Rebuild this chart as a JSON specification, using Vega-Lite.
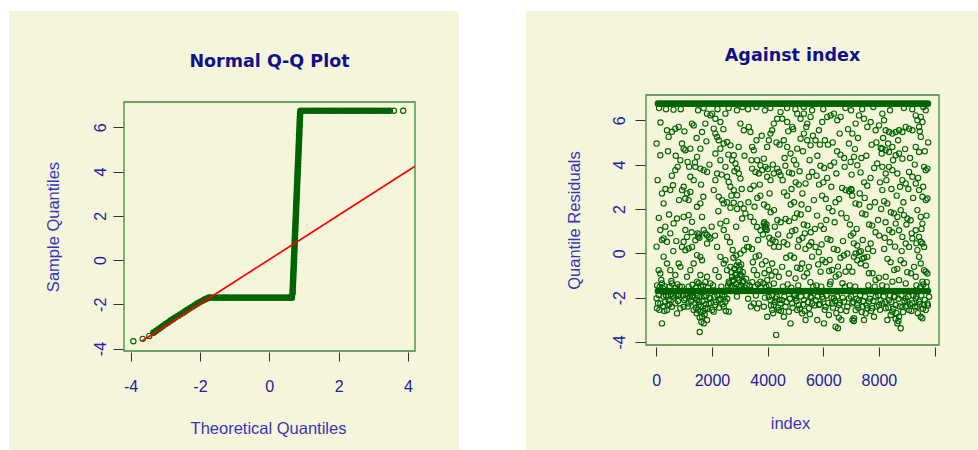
{
 "$schema": "https://vega.github.io/schema/vega-lite/v6.json",
 "background": "white",
 "padding": {"left": 8, "top": 10, "right": 0, "bottom": 0},
 "spacing": 65,
 "config": {
  "view": {"stroke": null},
  "axis": {"zindex": 1, "grid": false, "domain": false, "tickColor": "#333333", "tickWidth": 1, "labelFont": "Liberation Sans", "labelFontSize": 16, "labelColor": "#2020a0", "titleFont": "Liberation Sans", "titleFontSize": 16.5, "titleFontWeight": "normal", "titleColor": "#3535b8", "labelFlush": false, "labelOverlap": false},
  "title": {"font": "DejaVu Sans", "fontSize": 17.5, "fontWeight": "bold", "color": "#10108a", "anchor": "middle", "frame": "group", "baseline": "alphabetic"}
 },
 "datasets": {
  "qqband": [
   {"t":-3.34,"s":-3.28},{"t":-3.27,"s":-3.21},{"t":-3.2,"s":-3.13},{"t":-3.13,"s":-3.05},{"t":-3.06,"s":-2.97},{"t":-2.99,"s":-2.89},{"t":-2.92,"s":-2.82},{"t":-2.85,"s":-2.74},{"t":-2.78,"s":-2.67},{"t":-2.71,"s":-2.6},{"t":-2.64,"s":-2.53},{"t":-2.57,"s":-2.46},{"t":-2.5,"s":-2.39},{"t":-2.43,"s":-2.32},{"t":-2.36,"s":-2.25},{"t":-2.29,"s":-2.18},{"t":-2.22,"s":-2.11},{"t":-2.15,"s":-2.04},{"t":-2.08,"s":-1.97},{"t":-2.01,"s":-1.91},{"t":-1.94,"s":-1.85},{"t":-1.87,"s":-1.79},{"t":-1.8,"s":-1.74},{"t":-1.74,"s":-1.7},
   {"t":-1.66,"s":-1.7},{"t":-1.57,"s":-1.7},{"t":-1.48,"s":-1.7},{"t":-1.39,"s":-1.7},{"t":-1.3,"s":-1.7},{"t":-1.21,"s":-1.7},{"t":-1.12,"s":-1.7},{"t":-1.03,"s":-1.7},{"t":-0.94,"s":-1.7},{"t":-0.85,"s":-1.7},{"t":-0.76,"s":-1.7},{"t":-0.67,"s":-1.7},{"t":-0.58,"s":-1.7},{"t":-0.49,"s":-1.7},{"t":-0.4,"s":-1.7},{"t":-0.31,"s":-1.7},{"t":-0.22,"s":-1.7},{"t":-0.13,"s":-1.7},{"t":-0.04,"s":-1.7},{"t":0.05,"s":-1.7},{"t":0.14,"s":-1.7},{"t":0.23,"s":-1.7},{"t":0.32,"s":-1.7},{"t":0.41,"s":-1.7},{"t":0.5,"s":-1.7},{"t":0.59,"s":-1.7},{"t":0.65,"s":-1.7},
   {"t":0.67,"s":-1.5},{"t":0.674,"s":-1.36},{"t":0.678,"s":-1.22},{"t":0.681,"s":-1.08},{"t":0.685,"s":-0.94},{"t":0.689,"s":-0.8},{"t":0.693,"s":-0.66},{"t":0.696,"s":-0.52},{"t":0.7,"s":-0.38},{"t":0.704,"s":-0.24},{"t":0.708,"s":-0.1},{"t":0.711,"s":0.04},{"t":0.715,"s":0.18},{"t":0.719,"s":0.32},{"t":0.723,"s":0.46},{"t":0.726,"s":0.6},{"t":0.73,"s":0.74},{"t":0.734,"s":0.88},{"t":0.738,"s":1.02},{"t":0.741,"s":1.16},{"t":0.745,"s":1.3},{"t":0.749,"s":1.44},{"t":0.753,"s":1.58},{"t":0.756,"s":1.72},{"t":0.76,"s":1.86},{"t":0.764,"s":2.0},{"t":0.768,"s":2.14},{"t":0.771,"s":2.28},{"t":0.775,"s":2.42},{"t":0.779,"s":2.56},{"t":0.783,"s":2.7},{"t":0.786,"s":2.84},{"t":0.79,"s":2.98},{"t":0.794,"s":3.12},{"t":0.798,"s":3.26},{"t":0.801,"s":3.4},{"t":0.805,"s":3.54},{"t":0.809,"s":3.68},{"t":0.813,"s":3.82},{"t":0.816,"s":3.96},{"t":0.82,"s":4.1},{"t":0.824,"s":4.24},{"t":0.828,"s":4.38},{"t":0.831,"s":4.52},{"t":0.835,"s":4.66},{"t":0.839,"s":4.8},{"t":0.843,"s":4.94},{"t":0.846,"s":5.08},{"t":0.85,"s":5.22},{"t":0.854,"s":5.36},{"t":0.858,"s":5.5},{"t":0.861,"s":5.64},{"t":0.865,"s":5.78},{"t":0.869,"s":5.92},{"t":0.873,"s":6.06},{"t":0.876,"s":6.2},{"t":0.88,"s":6.34},{"t":0.884,"s":6.48},{"t":0.888,"s":6.62},
   {"t":0.9,"s":6.75},{"t":0.99,"s":6.75},{"t":1.08,"s":6.75},{"t":1.17,"s":6.75},{"t":1.26,"s":6.75},{"t":1.35,"s":6.75},{"t":1.44,"s":6.75},{"t":1.53,"s":6.75},{"t":1.62,"s":6.75},{"t":1.71,"s":6.75},{"t":1.8,"s":6.75},{"t":1.89,"s":6.75},{"t":1.98,"s":6.75},{"t":2.07,"s":6.75},{"t":2.16,"s":6.75},{"t":2.25,"s":6.75},{"t":2.34,"s":6.75},{"t":2.43,"s":6.75},{"t":2.52,"s":6.75},{"t":2.61,"s":6.75},{"t":2.7,"s":6.75},{"t":2.79,"s":6.75},{"t":2.88,"s":6.75},{"t":2.97,"s":6.75},{"t":3.06,"s":6.75},{"t":3.15,"s":6.75},{"t":3.24,"s":6.75},{"t":3.33,"s":6.75},{"t":3.42,"s":6.75}
  ],
  "qqtail": [
   {"t":-3.92,"s":-3.67},{"t":-3.65,"s":-3.56},{"t":-3.46,"s":-3.43},{"t":3.48,"s":6.75},{"t":3.59,"s":6.75},{"t":3.86,"s":6.75}
  ],
  "qqline": [{"t":-3.68,"s":-3.67},{"t":4.2,"s":4.24}],
  "band": [
   {"i":60,"r":6.75},{"i":160,"r":6.75},{"i":260,"r":6.75},{"i":360,"r":6.75},{"i":460,"r":6.75},{"i":560,"r":6.75},{"i":660,"r":6.75},{"i":760,"r":6.75},{"i":860,"r":6.75},{"i":960,"r":6.75},{"i":1060,"r":6.75},{"i":1160,"r":6.75},{"i":1260,"r":6.75},{"i":1360,"r":6.75},{"i":1460,"r":6.75},{"i":1560,"r":6.75},{"i":1660,"r":6.75},{"i":1760,"r":6.75},{"i":1860,"r":6.75},{"i":1960,"r":6.75},{"i":2060,"r":6.75},{"i":2160,"r":6.75},{"i":2260,"r":6.75},{"i":2360,"r":6.75},{"i":2460,"r":6.75},{"i":2560,"r":6.75},{"i":2660,"r":6.75},{"i":2760,"r":6.75},{"i":2860,"r":6.75},{"i":2960,"r":6.75},{"i":3060,"r":6.75},{"i":3160,"r":6.75},{"i":3260,"r":6.75},{"i":3360,"r":6.75},{"i":3460,"r":6.75},{"i":3560,"r":6.75},{"i":3660,"r":6.75},{"i":3760,"r":6.75},{"i":3860,"r":6.75},{"i":3960,"r":6.75},{"i":4060,"r":6.75},{"i":4160,"r":6.75},{"i":4260,"r":6.75},{"i":4360,"r":6.75},{"i":4460,"r":6.75},{"i":4560,"r":6.75},{"i":4660,"r":6.75},{"i":4760,"r":6.75},{"i":4860,"r":6.75},{"i":4960,"r":6.75},{"i":5060,"r":6.75},{"i":5160,"r":6.75},{"i":5260,"r":6.75},{"i":5360,"r":6.75},{"i":5460,"r":6.75},{"i":5560,"r":6.75},{"i":5660,"r":6.75},{"i":5760,"r":6.75},{"i":5860,"r":6.75},{"i":5960,"r":6.75},{"i":6060,"r":6.75},{"i":6160,"r":6.75},{"i":6260,"r":6.75},{"i":6360,"r":6.75},{"i":6460,"r":6.75},{"i":6560,"r":6.75},{"i":6660,"r":6.75},{"i":6760,"r":6.75},{"i":6860,"r":6.75},{"i":6960,"r":6.75},{"i":7060,"r":6.75},{"i":7160,"r":6.75},{"i":7260,"r":6.75},{"i":7360,"r":6.75},{"i":7460,"r":6.75},{"i":7560,"r":6.75},{"i":7660,"r":6.75},{"i":7760,"r":6.75},{"i":7860,"r":6.75},{"i":7960,"r":6.75},{"i":8060,"r":6.75},{"i":8160,"r":6.75},{"i":8260,"r":6.75},{"i":8360,"r":6.75},{"i":8460,"r":6.75},{"i":8560,"r":6.75},{"i":8660,"r":6.75},{"i":8760,"r":6.75},{"i":8860,"r":6.75},{"i":8960,"r":6.75},{"i":9060,"r":6.75},{"i":9160,"r":6.75},{"i":9260,"r":6.75},{"i":9360,"r":6.75},{"i":9460,"r":6.75},{"i":9560,"r":6.75},{"i":9660,"r":6.75},{"i":9760,"r":6.75},
   {"i":60,"r":-1.7},{"i":160,"r":-1.7},{"i":260,"r":-1.7},{"i":360,"r":-1.7},{"i":460,"r":-1.7},{"i":560,"r":-1.7},{"i":660,"r":-1.7},{"i":760,"r":-1.7},{"i":860,"r":-1.7},{"i":960,"r":-1.7},{"i":1060,"r":-1.7},{"i":1160,"r":-1.7},{"i":1260,"r":-1.7},{"i":1360,"r":-1.7},{"i":1460,"r":-1.7},{"i":1560,"r":-1.7},{"i":1660,"r":-1.7},{"i":1760,"r":-1.7},{"i":1860,"r":-1.7},{"i":1960,"r":-1.7},{"i":2060,"r":-1.7},{"i":2160,"r":-1.7},{"i":2260,"r":-1.7},{"i":2360,"r":-1.7},{"i":2460,"r":-1.7},{"i":2560,"r":-1.7},{"i":2660,"r":-1.7},{"i":2760,"r":-1.7},{"i":2860,"r":-1.7},{"i":2960,"r":-1.7},{"i":3060,"r":-1.7},{"i":3160,"r":-1.7},{"i":3260,"r":-1.7},{"i":3360,"r":-1.7},{"i":3460,"r":-1.7},{"i":3560,"r":-1.7},{"i":3660,"r":-1.7},{"i":3760,"r":-1.7},{"i":3860,"r":-1.7},{"i":3960,"r":-1.7},{"i":4060,"r":-1.7},{"i":4160,"r":-1.7},{"i":4260,"r":-1.7},{"i":4360,"r":-1.7},{"i":4460,"r":-1.7},{"i":4560,"r":-1.7},{"i":4660,"r":-1.7},{"i":4760,"r":-1.7},{"i":4860,"r":-1.7},{"i":4960,"r":-1.7},{"i":5060,"r":-1.7},{"i":5160,"r":-1.7},{"i":5260,"r":-1.7},{"i":5360,"r":-1.7},{"i":5460,"r":-1.7},{"i":5560,"r":-1.7},{"i":5660,"r":-1.7},{"i":5760,"r":-1.7},{"i":5860,"r":-1.7},{"i":5960,"r":-1.7},{"i":6060,"r":-1.7},{"i":6160,"r":-1.7},{"i":6260,"r":-1.7},{"i":6360,"r":-1.7},{"i":6460,"r":-1.7},{"i":6560,"r":-1.7},{"i":6660,"r":-1.7},{"i":6760,"r":-1.7},{"i":6860,"r":-1.7},{"i":6960,"r":-1.7},{"i":7060,"r":-1.7},{"i":7160,"r":-1.7},{"i":7260,"r":-1.7},{"i":7360,"r":-1.7},{"i":7460,"r":-1.7},{"i":7560,"r":-1.7},{"i":7660,"r":-1.7},{"i":7760,"r":-1.7},{"i":7860,"r":-1.7},{"i":7960,"r":-1.7},{"i":8060,"r":-1.7},{"i":8160,"r":-1.7},{"i":8260,"r":-1.7},{"i":8360,"r":-1.7},{"i":8460,"r":-1.7},{"i":8560,"r":-1.7},{"i":8660,"r":-1.7},{"i":8760,"r":-1.7},{"i":8860,"r":-1.7},{"i":8960,"r":-1.7},{"i":9060,"r":-1.7},{"i":9160,"r":-1.7},{"i":9260,"r":-1.7},{"i":9360,"r":-1.7},{"i":9460,"r":-1.7},{"i":9560,"r":-1.7},{"i":9660,"r":-1.7},{"i":9760,"r":-1.7}
  ],
  "resid": [
   {"i":10,"r":4.95},{"i":48,"r":3.3},{"i":144,"r":4.42},{"i":384,"r":5.55},{"i":444,"r":5.25},{"i":564,"r":5.48},{"i":684,"r":5.62},{"i":804,"r":5.7},{"i":204,"r":2.7},{"i":264,"r":2.25},{"i":504,"r":2.85},{"i":600,"r":3.07},{"i":684,"r":3.75},{"i":768,"r":3.9},{"i":10,"r":0.3},{"i":144,"r":1.05},{"i":324,"r":1.2},{"i":264,"r":0.67},{"i":204,"r":0.6},{"i":384,"r":0.52},{"i":504,"r":0.9},{"i":624,"r":1.35},{"i":744,"r":1.57},{"i":384,"r":-0.46},{"i":264,"r":-0.15},{"i":144,"r":-0.91},{"i":84,"r":-0.76},{"i":504,"r":-0.76},{"i":684,"r":-0.98},{"i":804,"r":-0.46},{"i":204,"r":-1.36},{"i":564,"r":-1.36},{"i":864,"r":-0.61},
   {"i":10,"r":-2.03},{"i":24,"r":-2.48},{"i":144,"r":-2.26},{"i":264,"r":-1.96},{"i":324,"r":-2.18},{"i":384,"r":-2.56},{"i":204,"r":-3.16},{"i":444,"r":-2.11},{"i":564,"r":-2.41},{"i":684,"r":-2.26},{"i":744,"r":-2.71},{"i":864,"r":-2.48},{"i":84,"r":-1.88},
   {"i":30,"r":-1.45},{"i":120,"r":-1.52},{"i":180,"r":-1.2},{"i":240,"r":-1.58},{"i":300,"r":-1.48},{"i":350,"r":-1.9},{"i":420,"r":-1.95},{"i":470,"r":-2.3},{"i":520,"r":-1.85},{"i":600,"r":-1.93},{"i":650,"r":-2.0},{"i":720,"r":-1.9},{"i":780,"r":-2.15},{"i":820,"r":-1.88},{"i":60,"r":-2.25},{"i":110,"r":-2.55},{"i":250,"r":-2.4},{"i":290,"r":-2.6},{"i":410,"r":-2.35},{"i":480,"r":-1.5},{"i":540,"r":-1.25},{"i":700,"r":-1.55},{"i":760,"r":-1.4},{"i":840,"r":-1.5},{"i":100,"r":6.55},{"i":350,"r":6.5},{"i":620,"r":6.48},{"i":880,"r":6.5},
   {"i":864,"r":4.2},{"i":924,"r":4.95},{"i":984,"r":4.72},{"i":1044,"r":4.65},{"i":1128,"r":4.12},{"i":1224,"r":4.72},{"i":984,"r":3.0},{"i":924,"r":2.85},{"i":1104,"r":2.7},{"i":1164,"r":2.4},{"i":1224,"r":2.77},{"i":1044,"r":2.47},{"i":1344,"r":3.3},{"i":1404,"r":3.9},{"i":1584,"r":3.82},{"i":1704,"r":3.75},{"i":1824,"r":3.67},{"i":1224,"r":3.45},{"i":1464,"r":4.35},{"i":1584,"r":4.72},{"i":1284,"r":5.85},{"i":1344,"r":5.77},{"i":1644,"r":5.47},{"i":1764,"r":5.85},{"i":1944,"r":6.22},{"i":2004,"r":6.3},{"i":1824,"r":6.3},{"i":984,"r":1.64},{"i":1164,"r":1.72},{"i":1284,"r":1.42},{"i":1464,"r":2.1},{"i":1584,"r":2.25},{"i":1644,"r":1.64},{"i":1704,"r":1.05},{"i":1764,"r":0.9},{"i":1824,"r":0.82},{"i":1884,"r":0.74},{"i":1944,"r":0.67},{"i":1824,"r":0.44},{"i":1044,"r":1.05},{"i":1104,"r":0.74},{"i":984,"r":0.52},{"i":924,"r":0.29},{"i":1044,"r":0.14},{"i":1164,"r":0.22},{"i":1284,"r":0.29},{"i":1404,"r":0.59},{"i":1464,"r":-0.08},{"i":1584,"r":-0.16},{"i":1644,"r":-0.31},{"i":1344,"r":-0.46},{"i":1224,"r":-0.76},{"i":1584,"r":-0.98},{"i":1824,"r":-1.06},{"i":1944,"r":-1.36},{"i":1464,"r":-1.28},{"i":1104,"r":-1.06},
   {"i":984,"r":-2.41},{"i":1044,"r":-2.03},{"i":1164,"r":-2.26},{"i":1284,"r":-1.96},{"i":1344,"r":-2.56},{"i":1404,"r":-2.26},{"i":1464,"r":-2.11},{"i":1524,"r":-2.33},{"i":1584,"r":-2.63},{"i":1644,"r":-2.86},{"i":1704,"r":-3.16},{"i":1560,"r":-3.55},{"i":1824,"r":-3.01},{"i":1764,"r":-2.48},{"i":1884,"r":-2.26},{"i":1944,"r":-2.03},{"i":2004,"r":-2.56},{"i":1584,"r":-1.96},
   {"i":920,"r":-1.5},{"i":960,"r":-1.9},{"i":1000,"r":-2.1},{"i":1080,"r":-1.85},{"i":1130,"r":-2.4},{"i":1200,"r":-1.95},{"i":1250,"r":-2.15},{"i":1320,"r":-1.9},{"i":1380,"r":-2.0},{"i":1420,"r":-2.45},{"i":1450,"r":-2.7},{"i":1480,"r":-1.9},{"i":1500,"r":-2.55},{"i":1540,"r":-2.2},{"i":1560,"r":-2.9},{"i":1600,"r":-2.4},{"i":1620,"r":-3.1},{"i":1660,"r":-2.15},{"i":1690,"r":-2.6},{"i":1720,"r":-1.95},{"i":1740,"r":-2.75},{"i":1780,"r":-2.3},{"i":1800,"r":-1.9},{"i":1850,"r":-2.5},{"i":1900,"r":-2.0},{"i":1960,"r":-2.25},{"i":1160,"r":-1.5},{"i":1300,"r":-1.42},{"i":1420,"r":-1.55},{"i":1520,"r":-1.35},{"i":1600,"r":-1.5},{"i":1680,"r":-1.45},{"i":1760,"r":-1.3},{"i":1860,"r":-1.55},{"i":1500,"r":0.75},{"i":1530,"r":0.85},{"i":1550,"r":0.7},{"i":1480,"r":0.9},{"i":1500,"r":6.45},{"i":1700,"r":6.55},
   {"i":2064,"r":5.62},{"i":2124,"r":5.4},{"i":2184,"r":5.25},{"i":2244,"r":5.1},{"i":2304,"r":4.72},{"i":2124,"r":4.5},{"i":2424,"r":4.95},{"i":2544,"r":5.02},{"i":2664,"r":4.87},{"i":2784,"r":4.42},{"i":2724,"r":4.2},{"i":2844,"r":4.05},{"i":2904,"r":3.82},{"i":2964,"r":3.6},{"i":3024,"r":3.37},{"i":2484,"r":3.9},{"i":2544,"r":3.45},{"i":2604,"r":3.22},{"i":2664,"r":3.0},{"i":2784,"r":2.85},{"i":2904,"r":2.62},{"i":2304,"r":4.2},{"i":2184,"r":3.6},{"i":2124,"r":3.3},{"i":2064,"r":2.85},{"i":2244,"r":2.55},{"i":2364,"r":2.4},{"i":2424,"r":2.25},{"i":2544,"r":2.3},{"i":2664,"r":2.05},{"i":2784,"r":2.28},{"i":2904,"r":2.0},{"i":3024,"r":2.22},{"i":3144,"r":2.02},{"i":3204,"r":1.8},{"i":3084,"r":1.57},{"i":2304,"r":1.34},{"i":2424,"r":1.05},{"i":2544,"r":0.74},{"i":2650,"r":0.5},{"i":2745,"r":0.15},{"i":2770,"r":-0.2},{"i":2870,"r":-0.1},{"i":2890,"r":-0.55},{"i":2990,"r":-0.6},{"i":3010,"r":-0.95},{"i":3110,"r":-0.85},{"i":3130,"r":-1.25},{"i":3230,"r":-1.15},{"i":2184,"r":0.29},{"i":2304,"r":-0.16},{"i":2424,"r":-0.46},{"i":2544,"r":-0.76},{"i":2664,"r":-0.61},{"i":2484,"r":-0.31},{"i":2724,"r":-1.06},{"i":2844,"r":-0.98},{"i":2604,"r":-1.28},{"i":2124,"r":-0.76},{"i":2244,"r":-1.06},{"i":3024,"r":-0.01},{"i":3144,"r":0.14},{"i":3264,"r":0.29},{"i":2124,"r":6.07},{"i":2304,"r":5.92},{"i":2484,"r":6.3},{"i":3024,"r":5.85},{"i":3144,"r":5.55},
   {"i":2124,"r":-2.33},{"i":2244,"r":-2.11},{"i":2364,"r":-1.88},{"i":2424,"r":-2.41},{"i":2484,"r":-2.18},{"i":2604,"r":-2.63},{"i":2064,"r":-2.63},{"i":3504,"r":-2.26},{"i":3624,"r":-2.48},
   {"i":2040,"r":-1.45},{"i":2090,"r":-1.95},{"i":2150,"r":-2.2},{"i":2200,"r":-1.9},{"i":2260,"r":-2.45},{"i":2300,"r":-2.05},{"i":2340,"r":-1.5},{"i":2380,"r":-2.3},{"i":2450,"r":-1.95},{"i":2500,"r":-2.6},{"i":2550,"r":-2.05},{"i":2580,"r":-1.45},{"i":2620,"r":-1.35},{"i":2700,"r":-1.5},{"i":2760,"r":-1.25},{"i":2820,"r":-1.55},{"i":2880,"r":-1.4},{"i":2960,"r":-1.5},{"i":3050,"r":-1.45},{"i":3100,"r":-1.3},{"i":3180,"r":-1.55},{"i":3250,"r":-1.45},{"i":2900,"r":-1.95},{"i":3300,"r":-2.05},{"i":3400,"r":-2.4},{"i":3580,"r":-1.9},{"i":3900,"r":-2.0},{"i":2800,"r":-0.7},{"i":2860,"r":-0.9},{"i":2920,"r":-1.1},{"i":2950,"r":-0.4},{"i":3000,"r":-0.75},{"i":3060,"r":-1.0},{"i":2700,"r":-0.85},{"i":2740,"r":-1.2},{"i":2980,"r":-1.2},{"i":3050,"r":-0.5},{"i":2200,"r":6.5},{"i":2600,"r":6.55},{"i":2900,"r":6.45},{"i":3100,"r":6.6},
   {"i":3324,"r":5.7},{"i":3384,"r":5.47},{"i":3444,"r":4.8},{"i":3504,"r":4.65},{"i":3624,"r":4.2},{"i":3744,"r":3.97},{"i":3864,"r":4.27},{"i":3984,"r":4.8},{"i":4044,"r":5.1},{"i":4104,"r":5.4},{"i":4164,"r":5.55},{"i":4224,"r":5.85},{"i":4344,"r":6.07},{"i":4464,"r":6.37},{"i":3444,"r":3.82},{"i":3564,"r":3.67},{"i":3684,"r":3.6},{"i":3804,"r":3.75},{"i":3924,"r":3.9},{"i":3984,"r":3.45},{"i":4104,"r":3.3},{"i":4224,"r":3.6},{"i":4344,"r":3.82},{"i":4404,"r":3.67},{"i":4464,"r":3.52},{"i":3380,"r":2.9},{"i":3500,"r":3.05},{"i":3630,"r":2.5},{"i":3740,"r":2.6},{"i":3870,"r":2.2},{"i":3990,"r":2.1},{"i":4110,"r":1.85},{"i":4230,"r":1.95},{"i":4350,"r":1.5},{"i":4470,"r":1.4},{"i":3384,"r":1.64},{"i":3504,"r":1.42},{"i":3624,"r":1.19},{"i":3744,"r":1.04},{"i":3864,"r":1.34},{"i":3924,"r":1.19},{"i":3970,"r":1.05},{"i":4060,"r":0.7},{"i":4090,"r":0.45},{"i":4180,"r":0.6},{"i":4230,"r":0.3},{"i":4284,"r":0.52},{"i":4404,"r":0.29},{"i":3324,"r":0.29},{"i":3440,"r":0.2},{"i":3570,"r":-0.15},{"i":3690,"r":-0.1},{"i":3800,"r":-0.5},{"i":3930,"r":-0.35},{"i":4050,"r":-0.75},{"i":4164,"r":-0.46},{"i":4284,"r":-0.83},{"i":4404,"r":-1.06},{"i":3504,"r":-0.76},{"i":3624,"r":-0.98},{"i":3744,"r":-1.28},{"i":3984,"r":-1.21},{"i":4224,"r":-1.36},{"i":3900,"r":1.25},{"i":3930,"r":1.1},{"i":3960,"r":1.3},{"i":3880,"r":1.4},
   {"i":3684,"r":-2.26},{"i":3864,"r":-2.41},{"i":3984,"r":-2.86},{"i":4104,"r":-2.11},{"i":4224,"r":-2.33},{"i":4308,"r":-3.68},{"i":4404,"r":-2.56},{"i":4464,"r":-2.26},{"i":4044,"r":-1.96},{"i":4164,"r":-2.56},{"i":4284,"r":-2.03},
   {"i":3350,"r":-1.45},{"i":3450,"r":-1.3},{"i":3550,"r":-1.5},{"i":3650,"r":-1.4},{"i":3750,"r":-1.55},{"i":3850,"r":-1.35},{"i":3950,"r":-1.5},{"i":4050,"r":-1.45},{"i":4150,"r":-1.9},{"i":4250,"r":-2.2},{"i":4330,"r":-1.95},{"i":4380,"r":-2.45},{"i":4420,"r":-2.1},{"i":4480,"r":-2.6},{"i":4200,"r":-2.7},{"i":4120,"r":-2.35},{"i":3300,"r":6.5},{"i":3600,"r":6.6},{"i":3900,"r":6.45},{"i":4100,"r":6.55},
   {"i":4524,"r":6.07},{"i":4704,"r":5.92},{"i":4884,"r":5.7},{"i":5064,"r":6.3},{"i":5184,"r":6.07},{"i":5304,"r":6.3},{"i":5424,"r":5.85},{"i":5544,"r":6.15},{"i":4584,"r":5.1},{"i":4704,"r":4.8},{"i":4824,"r":4.5},{"i":4944,"r":4.2},{"i":5064,"r":4.72},{"i":5184,"r":5.17},{"i":5304,"r":5.4},{"i":5424,"r":5.1},{"i":5544,"r":4.87},{"i":4640,"r":3.95},{"i":4770,"r":3.65},{"i":4880,"r":3.6},{"i":5010,"r":3.2},{"i":5120,"r":3.1},{"i":5250,"r":2.7},{"i":5364,"r":3.15},{"i":5484,"r":3.45},{"i":5604,"r":3.67},{"i":4590,"r":2.75},{"i":4700,"r":2.6},{"i":4830,"r":2.2},{"i":4950,"r":2.3},{"i":5060,"r":1.8},{"i":5190,"r":1.75},{"i":5300,"r":1.3},{"i":5430,"r":1.25},{"i":5550,"r":0.95},{"i":5664,"r":2.4},{"i":4650,"r":1.55},{"i":4770,"r":1.45},{"i":4880,"r":1.0},{"i":5000,"r":1.05},{"i":5130,"r":0.6},{"i":5250,"r":0.7},{"i":5360,"r":0.2},{"i":5490,"r":0.35},{"i":5600,"r":-0.15},{"i":4580,"r":0.5},{"i":4710,"r":0.4},{"i":4820,"r":-0.1},{"i":4950,"r":-0.2},{"i":5060,"r":-0.65},{"i":5180,"r":-0.7},{"i":5310,"r":-1.05},{"i":5420,"r":-0.9},{"i":5540,"r":-1.3},{"i":4524,"r":-0.61},{"i":4764,"r":-0.91},{"i":5004,"r":-1.13},{"i":5244,"r":-0.46},{"i":5484,"r":-0.61},
   {"i":4524,"r":-2.11},{"i":4644,"r":-2.41},{"i":4764,"r":-2.63},{"i":4884,"r":-2.26},{"i":5004,"r":-2.03},{"i":5124,"r":-2.33},{"i":5244,"r":-2.71},{"i":5364,"r":-3.01},{"i":5484,"r":-2.48},{"i":5604,"r":-2.26},{"i":4584,"r":-2.86},{"i":4824,"r":-3.16},{"i":5064,"r":-2.56},{"i":5304,"r":-2.11},{"i":5544,"r":-1.96},{"i":4944,"r":-1.88},
   {"i":4550,"r":-1.5},{"i":4600,"r":-1.95},{"i":4680,"r":-2.2},{"i":4720,"r":-1.4},{"i":4800,"r":-2.05},{"i":4850,"r":-1.55},{"i":4900,"r":-2.45},{"i":4980,"r":-1.9},{"i":5040,"r":-2.15},{"i":5100,"r":-1.45},{"i":5160,"r":-2.5},{"i":5200,"r":-1.95},{"i":5280,"r":-2.3},{"i":5330,"r":-2.6},{"i":5400,"r":-1.9},{"i":5450,"r":-2.2},{"i":5520,"r":-2.75},{"i":5580,"r":-2.0},{"i":5640,"r":-1.5},{"i":5680,"r":-2.35},{"i":4700,"r":6.55},{"i":5000,"r":6.5},{"i":5300,"r":6.6},{"i":5600,"r":6.45},
   {"i":5724,"r":5.1},{"i":5844,"r":5.55},{"i":5964,"r":5.92},{"i":6144,"r":6.15},{"i":6264,"r":6.22},{"i":6384,"r":6.3},{"i":6504,"r":6.0},{"i":6624,"r":6.15},{"i":5790,"r":4.4},{"i":5900,"r":3.95},{"i":6030,"r":3.85},{"i":6140,"r":3.4},{"i":6260,"r":3.95},{"i":6390,"r":4.1},{"i":6500,"r":4.6},{"i":6620,"r":4.45},{"i":6750,"r":4.3},{"i":5850,"r":3.1},{"i":5960,"r":2.6},{"i":6090,"r":2.45},{"i":6200,"r":2.05},{"i":6330,"r":1.9},{"i":6440,"r":2.3},{"i":6570,"r":2.45},{"i":6680,"r":2.95},{"i":6800,"r":2.85},{"i":5780,"r":1.7},{"i":5910,"r":1.25},{"i":6020,"r":1.1},{"i":6150,"r":0.65},{"i":6260,"r":0.6},{"i":6380,"r":0.2},{"i":6510,"r":0.15},{"i":6620,"r":-0.2},{"i":6740,"r":-0.1},{"i":6864,"r":-0.01},{"i":5724,"r":0.29},{"i":5840,"r":0.05},{"i":5970,"r":-0.3},{"i":6080,"r":-0.4},{"i":6210,"r":-0.8},{"i":6320,"r":-0.75},{"i":6450,"r":-1.05},{"i":6560,"r":-0.95},{"i":6690,"r":-1.35},{"i":6804,"r":-0.83},{"i":5904,"r":-0.83},{"i":6264,"r":-1.28},
   {"i":5724,"r":-2.11},{"i":5844,"r":-2.33},{"i":5964,"r":-1.96},{"i":6084,"r":-2.41},{"i":6204,"r":-2.78},{"i":6324,"r":-2.26},{"i":6444,"r":-3.31},{"i":6528,"r":-3.38},{"i":6624,"r":-2.56},{"i":6744,"r":-2.18},{"i":6864,"r":-2.41},{"i":5784,"r":-3.01},{"i":6024,"r":-3.16},{"i":6384,"r":-2.03},{"i":6564,"r":-2.33},
   {"i":5750,"r":-1.45},{"i":5800,"r":-1.95},{"i":5880,"r":-2.3},{"i":5930,"r":-1.5},{"i":6000,"r":-2.05},{"i":6050,"r":-2.55},{"i":6120,"r":-1.9},{"i":6180,"r":-2.25},{"i":6240,"r":-1.4},{"i":6300,"r":-2.0},{"i":6350,"r":-2.45},{"i":6420,"r":-2.15},{"i":6470,"r":-2.7},{"i":6500,"r":-1.95},{"i":6560,"r":-2.9},{"i":6600,"r":-2.25},{"i":6650,"r":-3.0},{"i":6700,"r":-2.0},{"i":6780,"r":-1.5},{"i":6830,"r":-2.6},{"i":6000,"r":6.5},{"i":6800,"r":6.55},
   {"i":6924,"r":4.95},{"i":7044,"r":5.4},{"i":7164,"r":5.85},{"i":7284,"r":6.22},{"i":7464,"r":6.07},{"i":7584,"r":5.7},{"i":7704,"r":5.92},{"i":7884,"r":5.55},{"i":8004,"r":5.77},{"i":6984,"r":4.12},{"i":7104,"r":4.35},{"i":7224,"r":3.97},{"i":7340,"r":3.65},{"i":7470,"r":3.2},{"i":7580,"r":3.05},{"i":7700,"r":3.4},{"i":7830,"r":3.85},{"i":7940,"r":4.05},{"i":8070,"r":4.75},{"i":6930,"r":2.8},{"i":7040,"r":2.6},{"i":7160,"r":2.25},{"i":7290,"r":2.2},{"i":7400,"r":1.8},{"i":7520,"r":1.75},{"i":7650,"r":1.3},{"i":7760,"r":1.25},{"i":7880,"r":0.95},{"i":8010,"r":0.8},{"i":6990,"r":0.8},{"i":7100,"r":0.45},{"i":7220,"r":0.35},{"i":7290,"r":0.05},{"i":7350,"r":0.1},{"i":7400,"r":-0.25},{"i":7470,"r":-0.2},{"i":7104,"r":-0.16},{"i":7164,"r":-0.01},{"i":7224,"r":-0.31},{"i":7344,"r":-0.46},{"i":7530,"r":-0.55},{"i":7640,"r":-0.9},{"i":7770,"r":-0.9},{"i":7880,"r":-1.2},{"i":8000,"r":-1.1},{"i":6924,"r":-0.61},{"i":7044,"r":-0.83},{"i":7584,"r":-0.16},{"i":7704,"r":0.44},{"i":7000,"r":2.9},{"i":7020,"r":2.85},
   {"i":6924,"r":-2.03},{"i":7044,"r":-2.26},{"i":7164,"r":-2.56},{"i":7284,"r":-2.11},{"i":7404,"r":-2.41},{"i":7524,"r":-2.71},{"i":7644,"r":-2.18},{"i":7764,"r":-2.48},{"i":7884,"r":-1.96},{"i":8004,"r":-2.33},{"i":7104,"r":-2.93},{"i":7464,"r":-3.01},{"i":7584,"r":-2.48},{"i":8064,"r":-2.11},{"i":7224,"r":-2.33},{"i":7824,"r":-2.86},
   {"i":6950,"r":-1.45},{"i":7000,"r":-1.95},{"i":7080,"r":-2.2},{"i":7150,"r":-1.5},{"i":7200,"r":-2.05},{"i":7260,"r":-2.45},{"i":7320,"r":-1.9},{"i":7380,"r":-2.65},{"i":7430,"r":-2.15},{"i":7500,"r":-1.95},{"i":7560,"r":-2.35},{"i":7620,"r":-1.45},{"i":7680,"r":-2.05},{"i":7720,"r":-2.6},{"i":7800,"r":-2.15},{"i":7850,"r":-1.5},{"i":7920,"r":-2.4},{"i":7980,"r":-1.9},{"i":8040,"r":-2.55},{"i":7100,"r":-3.05},{"i":7050,"r":-3.0},{"i":7000,"r":6.45},{"i":7400,"r":6.5},{"i":7800,"r":6.6},
   {"i":8124,"r":6.3},{"i":8184,"r":6.0},{"i":8244,"r":5.55},{"i":8364,"r":5.47},{"i":8484,"r":5.4},{"i":8604,"r":5.47},{"i":8724,"r":5.55},{"i":8844,"r":5.47},{"i":8964,"r":5.7},{"i":9084,"r":5.62},{"i":9204,"r":5.55},{"i":8124,"r":4.72},{"i":8244,"r":4.65},{"i":8364,"r":4.57},{"i":8484,"r":4.8},{"i":8604,"r":4.42},{"i":8724,"r":4.5},{"i":8844,"r":4.27},{"i":8124,"r":3.9},{"i":8244,"r":3.6},{"i":8364,"r":3.9},{"i":8484,"r":3.75},{"i":8664,"r":3.6},{"i":8844,"r":3.3},{"i":8964,"r":3.15},{"i":9084,"r":3.67},{"i":9204,"r":3.45},{"i":8124,"r":2.85},{"i":8190,"r":2.35},{"i":8300,"r":2.25},{"i":8430,"r":1.85},{"i":8540,"r":1.8},{"i":8664,"r":1.64},{"i":8784,"r":1.95},{"i":8904,"r":1.72},{"i":9024,"r":1.57},{"i":9144,"r":1.49},{"i":8240,"r":1.4},{"i":8370,"r":1.05},{"i":8480,"r":0.95},{"i":8604,"r":1.34},{"i":8724,"r":1.04},{"i":8844,"r":0.74},{"i":8964,"r":0.44},{"i":9084,"r":0.29},{"i":9204,"r":0.67},{"i":8190,"r":0.2},{"i":8310,"r":-0.25},{"i":8420,"r":-0.4},{"i":8550,"r":-0.75},{"i":8660,"r":-0.7},{"i":8784,"r":-0.31},{"i":8900,"r":-0.45},{"i":9020,"r":-0.85},{"i":9150,"r":-0.9},{"i":9264,"r":-0.61},{"i":8244,"r":-1.06},{"i":8484,"r":-1.28},{"i":8724,"r":-1.21},{"i":8964,"r":-1.36},{"i":8080,"r":2.0},{"i":8100,"r":4.5},
   {"i":8124,"r":-2.26},{"i":8244,"r":-2.48},{"i":8364,"r":-2.11},{"i":8484,"r":-2.63},{"i":8604,"r":-2.33},{"i":8724,"r":-2.86},{"i":8784,"r":-3.38},{"i":8844,"r":-2.41},{"i":8964,"r":-2.03},{"i":9084,"r":-2.56},{"i":9204,"r":-2.26},{"i":8304,"r":-3.01},{"i":8544,"r":-1.96},{"i":8664,"r":-3.16},{"i":8424,"r":-2.78},{"i":9024,"r":-2.18},
   {"i":8120,"r":-1.45},{"i":8170,"r":-1.95},{"i":8230,"r":-2.2},{"i":8280,"r":-1.5},{"i":8340,"r":-2.45},{"i":8400,"r":-1.9},{"i":8450,"r":-2.2},{"i":8520,"r":-2.5},{"i":8570,"r":-1.95},{"i":8630,"r":-2.7},{"i":8700,"r":-2.05},{"i":8750,"r":-2.4},{"i":8810,"r":-1.9},{"i":8870,"r":-2.65},{"i":8920,"r":-2.15},{"i":8980,"r":-2.4},{"i":9050,"r":-1.95},{"i":9110,"r":-2.3},{"i":9170,"r":-2.6},{"i":9240,"r":-1.9},{"i":8600,"r":-2.95},{"i":8700,"r":-3.05},{"i":8400,"r":6.45},{"i":8900,"r":6.55},{"i":9200,"r":6.5},
   {"i":9324,"r":6.22},{"i":9384,"r":6.0},{"i":9444,"r":5.7},{"i":9504,"r":6.15},{"i":9564,"r":5.92},{"i":9684,"r":6.45},{"i":9324,"r":4.8},{"i":9444,"r":4.57},{"i":9504,"r":5.25},{"i":9624,"r":3.9},{"i":9684,"r":3.75},{"i":9744,"r":3.82},{"i":9324,"r":3.15},{"i":9444,"r":2.85},{"i":9564,"r":2.55},{"i":9684,"r":2.4},{"i":9744,"r":2.47},{"i":9384,"r":1.95},{"i":9504,"r":1.64},{"i":9564,"r":1.34},{"i":9324,"r":1.04},{"i":9444,"r":0.74},{"i":9504,"r":0.52},{"i":9564,"r":0.44},{"i":9624,"r":0.29},{"i":9384,"r":0.14},{"i":9444,"r":-0.16},{"i":9504,"r":-0.46},{"i":9624,"r":-0.76},{"i":9684,"r":-0.83},{"i":9744,"r":-0.91},{"i":9324,"r":-1.06},{"i":9564,"r":-1.28},
   {"i":9324,"r":-2.03},{"i":9384,"r":-2.41},{"i":9444,"r":-2.18},{"i":9504,"r":-2.86},{"i":9564,"r":-2.93},{"i":9624,"r":-2.33},{"i":9684,"r":-2.56},{"i":9744,"r":-2.26},{"i":9804,"r":-1.96},
   {"i":9300,"r":-2.4},{"i":9350,"r":-1.95},{"i":9400,"r":-2.7},{"i":9460,"r":-2.3},{"i":9520,"r":-1.9},{"i":9580,"r":-2.5},{"i":9650,"r":-2.1},{"i":9700,"r":-1.5},{"i":9760,"r":-2.35},{"i":9350,"r":-1.45},{"i":9600,"r":-1.4},{"i":9720,"r":-1.3},{"i":9480,"r":-1.55},{"i":9600,"r":6.6},
   {"i":150,"r":5.9},{"i":420,"r":4.6},{"i":700,"r":4.4},{"i":560,"r":3.5},{"i":330,"r":2.9},{"i":90,"r":1.6},{"i":460,"r":1.75},{"i":610,"r":0.1},{"i":720,"r":0.55},{"i":820,"r":2.4},{"i":1010,"r":5.5},{"i":1180,"r":3.9},{"i":1270,"r":0.95},{"i":1390,"r":4.1},{"i":1450,"r":5.2},{"i":1610,"r":3.1},{"i":1690,"r":2.55},{"i":1800,"r":5.05},{"i":1910,"r":4.0},{"i":1990,"r":1.2},{"i":2110,"r":0.8},{"i":2230,"r":1.9},{"i":2350,"r":3.55},{"i":2410,"r":5.6},{"i":2520,"r":1.45},{"i":2590,"r":4.45},{"i":2700,"r":2.6},{"i":2810,"r":3.7},{"i":2870,"r":1.2},{"i":2960,"r":4.8},{"i":3070,"r":2.9},{"i":3170,"r":4.4},{"i":3220,"r":0.65},{"i":3310,"r":2.3},{"i":3420,"r":4.2},{"i":3470,"r":-0.4},{"i":3530,"r":2.1},{"i":3600,"r":5.1},{"i":3660,"r":0.6},{"i":3720,"r":3.1},{"i":3790,"r":5.3},{"i":3830,"r":0.85},{"i":3890,"r":-0.9},{"i":4010,"r":3.8},{"i":4070,"r":2.7},{"i":4140,"r":-1.0},{"i":4190,"r":4.0},{"i":4260,"r":1.2},{"i":4320,"r":5.0},{"i":4380,"r":0.85},{"i":4430,"r":4.9},{"i":4540,"r":3.3},{"i":4610,"r":4.3},{"i":4670,"r":-0.2},{"i":4740,"r":5.5},{"i":4790,"r":0.8},{"i":4860,"r":2.9},{"i":4920,"r":5.6},{"i":4970,"r":1.6},{"i":5030,"r":4.0},{"i":5090,"r":0.3},{"i":5150,"r":3.7},{"i":5220,"r":2.2},{"i":5270,"r":4.6},{"i":5340,"r":0.9},{"i":5390,"r":5.7},{"i":5460,"r":2.0},{"i":5510,"r":4.2},{"i":5570,"r":0.5},{"i":5630,"r":5.3},{"i":5700,"r":1.1},{"i":5760,"r":3.5},{"i":5820,"r":-0.5},{"i":5880,"r":4.9},{"i":5940,"r":0.4},{"i":6000,"r":3.2},{"i":6060,"r":5.1},{"i":6110,"r":1.5},{"i":6170,"r":4.9},{"i":6230,"r":-0.3},{"i":6290,"r":3.0},{"i":6340,"r":5.0},{"i":6410,"r":1.4},{"i":6470,"r":3.6},{"i":6530,"r":-0.6},{"i":6590,"r":5.4},{"i":6650,"r":1.8},{"i":6710,"r":0.55},{"i":6770,"r":3.9},{"i":6840,"r":1.6},{"i":6890,"r":5.6},{"i":6960,"r":1.3},{"i":7020,"r":3.55},{"i":7080,"r":0.9},{"i":7140,"r":4.7},{"i":7200,"r":1.1},{"i":7250,"r":5.2},{"i":7310,"r":2.7},{"i":7370,"r":4.3},{"i":7420,"r":0.6},{"i":7490,"r":2.5},{"i":7550,"r":4.4},{"i":7610,"r":0.2},{"i":7670,"r":2.1},{"i":7740,"r":4.9},{"i":7790,"r":0.1},{"i":7860,"r":2.3},{"i":7910,"r":5.0},{"i":7970,"r":1.5},{"i":8040,"r":3.2},{"i":8150,"r":5.2},{"i":8210,"r":0.7},{"i":8270,"r":3.3},{"i":8330,"r":4.95},{"i":8390,"r":0.5},{"i":8450,"r":2.9},{"i":8510,"r":4.2},{"i":8580,"r":0.3},{"i":8640,"r":2.6},{"i":8690,"r":5.1},{"i":8760,"r":3.0},{"i":8820,"r":0.1},{"i":8880,"r":2.3},{"i":8940,"r":4.7},{"i":8990,"r":1.3},{"i":9060,"r":2.9},{"i":9120,"r":4.3},{"i":9180,"r":0.9},{"i":9230,"r":2.5},{"i":9290,"r":4.0},{"i":9350,"r":0.45},{"i":9410,"r":3.4},{"i":9470,"r":5.5},{"i":9530,"r":1.1},{"i":9590,"r":3.0},{"i":9650,"r":4.6},{"i":9710,"r":1.7},{"i":9770,"r":5.0}
  ]
 },
 "hconcat": [
  {
   "width": 291, "height": 256,
   "title": {"text": "Normal Q-Q Plot", "offset": -59.2},
   "layer": [
    {"data": {"values": [{}]}, "mark": {"type": "rect", "fill": "#F5F5DC", "clip": false},
     "encoding": {
      "x": {"datum": -7.506, "type": "quantitative", "scale": {"domain": [-4.19, 4.2], "nice": false, "zero": false},
            "axis": {"zindex": 1, "values": [-4, -2, 0, 2, 4], "labelExpr": "toString(datum.value)", "offset": 1, "tickSize": 9, "labelPadding": 30, "labelBaseline": "alphabetic", "title": "Theoretical Quantiles", "titleX": 144, "titleY": 81.5, "titleBaseline": "alphabetic", "titleAlign": "center"}},
      "x2": {"datum": 5.469},
      "y": {"datum": 11.258, "type": "quantitative", "scale": {"domain": [-4.11, 7.461], "nice": false, "zero": false},
            "axis": {"zindex": 1, "values": [-4, -2, 0, 2, 4, 6], "labelExpr": "toString(datum.value)", "offset": 1, "tickSize": 10, "labelAngle": 270, "labelAlign": "center", "labelBaseline": "alphabetic", "labelPadding": 8, "title": "Sample Quantiles", "titleAngle": 270, "titleAlign": "center", "titleBaseline": "alphabetic", "titleX": -64.3, "titleY": 131.5}},
      "y2": {"datum": -8.586}}},
    {"data": {"name": "qqband"}, "mark": {"type": "point", "shape": "circle", "filled": true, "size": 44, "color": "#006400", "opacity": 1},
     "encoding": {"x": {"field": "t", "type": "quantitative"}, "y": {"field": "s", "type": "quantitative"}}},
    {"data": {"name": "qqtail"}, "mark": {"type": "point", "shape": "circle", "filled": false, "size": 28, "strokeWidth": 1.1, "color": "#006400", "opacity": 1},
     "encoding": {"x": {"field": "t", "type": "quantitative"}, "y": {"field": "s", "type": "quantitative"}}},
    {"data": {"name": "qqline"}, "mark": {"type": "line", "color": "#ff0000", "strokeWidth": 1.7},
     "encoding": {"x": {"field": "t", "type": "quantitative"}, "y": {"field": "s", "type": "quantitative"}}},
    {"data": {"values": [{}]}, "mark": {"type": "rect", "filled": false, "color": "#3a8a3a", "strokeWidth": 1.3, "clip": false},
     "encoding": {"x": {"datum": -4.19, "type": "quantitative"}, "x2": {"datum": 4.2}, "y": {"datum": -4.11, "type": "quantitative"}, "y2": {"datum": 7.145}}}
   ]
  },
  {
   "width": 293, "height": 250,
   "title": {"text": "Against index", "offset": -53.8},
   "layer": [
    {"data": {"values": [{}]}, "mark": {"type": "rect", "fill": "#F5F5DC", "clip": false},
     "encoding": {
      "x": {"datum": -4683, "type": "quantitative", "scale": {"domain": [-370, 10160], "nice": false, "zero": false},
            "axis": {"zindex": 1, "values": [0, 2000, 4000, 6000, 8000, 10000], "labelExpr": "datum.value == 10000 ? '' : toString(datum.value)", "offset": 2, "tickSize": 9, "labelPadding": 29.5, "labelBaseline": "alphabetic", "title": "index", "titleX": 144, "titleY": 81.3, "titleBaseline": "alphabetic", "titleAlign": "center"}},
      "x2": {"datum": 11562},
      "y": {"datum": 10.93, "type": "quantitative", "scale": {"domain": [-4.135, 7.14], "nice": false, "zero": false},
            "axis": {"zindex": 1, "values": [-4, -2, 0, 2, 4, 6], "labelExpr": "toString(datum.value)", "offset": 1, "tickSize": 10, "labelAngle": 270, "labelAlign": "center", "labelBaseline": "alphabetic", "labelPadding": 11, "title": "Quantile Residuals", "titleAngle": 270, "titleAlign": "center", "titleBaseline": "alphabetic", "titleX": -65.5, "titleY": 125}},
      "y2": {"datum": -8.87}}},
    {"data": {"name": "band"}, "mark": {"type": "point", "shape": "circle", "filled": true, "size": 44, "color": "#006400", "opacity": 1},
     "encoding": {"x": {"field": "i", "type": "quantitative"}, "y": {"field": "r", "type": "quantitative"}}},
    {"data": {"name": "resid"}, "mark": {"type": "point", "shape": "circle", "filled": false, "size": 28, "strokeWidth": 1.1, "color": "#006400", "opacity": 1},
     "encoding": {"x": {"field": "i", "type": "quantitative"}, "y": {"field": "r", "type": "quantitative"}}},
    {"data": {"values": [{}]}, "mark": {"type": "rect", "filled": false, "color": "#3a8a3a", "strokeWidth": 1.3, "clip": false},
     "encoding": {"x": {"datum": -370, "type": "quantitative"}, "x2": {"datum": 10160}, "y": {"datum": -4.135, "type": "quantitative"}, "y2": {"datum": 7.14}}}
   ]
  }
 ]
}
